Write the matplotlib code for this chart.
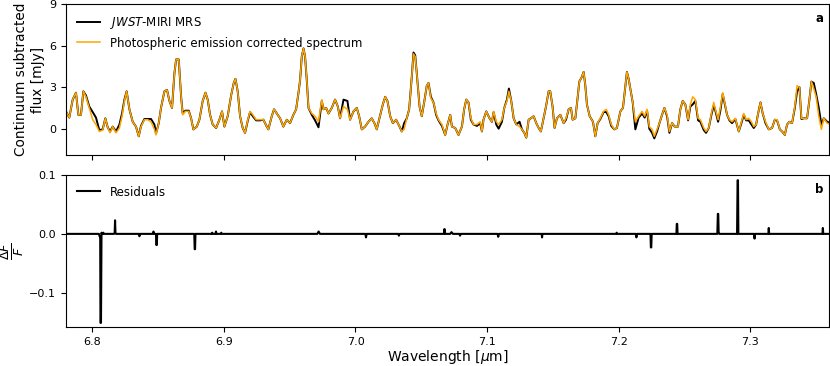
import matplotlib
matplotlib.use("Agg")
import matplotlib.pyplot as plt

# wavelength grid (micron)
wave = [
    6.7800, 6.7825, 6.7851, 6.7876, 6.7894, 6.7914, 6.7932, 6.7952, 6.7977, 6.8003,
    6.8028, 6.8053, 6.8079, 6.8099, 6.8117, 6.8135, 6.8155, 6.8180, 6.8206, 6.8226,
    6.8244, 6.8261, 6.8282, 6.8307, 6.8332, 6.8353, 6.8370, 6.8396, 6.8421, 6.8446,
    6.8472, 6.8484, 6.8505, 6.8522, 6.8548, 6.8568, 6.8586, 6.8606, 6.8624, 6.8637,
    6.8657, 6.8675, 6.8687, 6.8707, 6.8733, 6.8751, 6.8768, 6.8794, 6.8814, 6.8839,
    6.8860, 6.8877, 6.8895, 6.8915, 6.8941, 6.8966, 6.8986, 6.9004, 6.9029, 6.9055,
    6.9075, 6.9088, 6.9105, 6.9123, 6.9143, 6.9161, 6.9182, 6.9199, 6.9220, 6.9245,
    6.9275, 6.9300, 6.9326, 6.9338, 6.9364, 6.9381, 6.9402, 6.9427, 6.9452, 6.9478,
    6.9503, 6.9528, 6.9549, 6.9567, 6.9579, 6.9592, 6.9605, 6.9617, 6.9630, 6.9643,
    6.9668, 6.9693, 6.9719, 6.9744, 6.9757, 6.9777, 6.9795, 6.9820, 6.9845, 6.9866,
    6.9883, 6.9909, 6.9939, 6.9959, 6.9985, 7.0010, 7.0028, 7.0048, 7.0073, 7.0099,
    7.0124, 7.0144, 7.0162, 7.0182, 7.0208, 7.0226, 7.0243, 7.0264, 7.0284, 7.0309,
    7.0335, 7.0352, 7.0370, 7.0390, 7.0408, 7.0428, 7.0441, 7.0454, 7.0466, 7.0487,
    7.0504, 7.0522, 7.0542, 7.0555, 7.0573, 7.0593, 7.0613, 7.0631, 7.0657, 7.0682,
    7.0700, 7.0720, 7.0733, 7.0758, 7.0783, 7.0809, 7.0826, 7.0842, 7.0859, 7.0877,
    7.0897, 7.0923, 7.0948, 7.0961, 7.0973, 7.0994, 7.1019, 7.1037, 7.1050, 7.1070,
    7.1088, 7.1113, 7.1131, 7.1151, 7.1166, 7.1184, 7.1202, 7.1222, 7.1247, 7.1265,
    7.1283, 7.1298, 7.1316, 7.1333, 7.1354, 7.1374, 7.1392, 7.1409, 7.1430, 7.1448,
    7.1468, 7.1480, 7.1498, 7.1513, 7.1531, 7.1557, 7.1582, 7.1600, 7.1620, 7.1638,
    7.1650, 7.1671, 7.1688, 7.1701, 7.1721, 7.1734, 7.1747, 7.1759, 7.1780, 7.1805,
    7.1823, 7.1840, 7.1861, 7.1886, 7.1906, 7.1924, 7.1944, 7.1967, 7.1987, 7.2013,
    7.2033, 7.2051, 7.2063, 7.2076, 7.2089, 7.2107, 7.2127, 7.2152, 7.2178, 7.2198,
    7.2216, 7.2233, 7.2254, 7.2271, 7.2292, 7.2310, 7.2330, 7.2348, 7.2368, 7.2386,
    7.2406, 7.2426, 7.2451, 7.2469, 7.2487, 7.2507, 7.2528, 7.2545, 7.2563, 7.2583,
    7.2604, 7.2621, 7.2647, 7.2664, 7.2685, 7.2705, 7.2723, 7.2735, 7.2756, 7.2773,
    7.2791, 7.2806, 7.2824, 7.2842, 7.2862, 7.2887, 7.2913, 7.2933, 7.2951, 7.2969,
    7.2989, 7.3009, 7.3027, 7.3045, 7.3060, 7.3078, 7.3095, 7.3116, 7.3141, 7.3166,
    7.3187, 7.3204, 7.3225, 7.3242, 7.3263, 7.3280, 7.3298, 7.3318, 7.3339, 7.3356,
    7.3374, 7.3389, 7.3407, 7.3432, 7.3450, 7.3465, 7.3483, 7.3501, 7.3521, 7.3541,
    7.3559, 7.3585, 7.3610,
]

# photospheric emission corrected spectrum (mJy)
corrected = [
    1.25, 0.80, 2.10, 2.60, 1.00, 1.00, 2.70, 2.30, 1.50, 0.65,
    0.30, -0.20, -0.10, 0.75, 0.10, -0.30, 0.15, -0.30, 0.05, 0.90,
    2.00, 2.70, 1.40, 0.50, 0.15, -0.55, 0.15, 0.65, 0.65, 0.50,
    -0.05, -0.45, 0.40, 1.50, 2.70, 2.80, 2.00, 1.50, 4.00, 5.00,
    5.00, 2.30, 1.00, 1.25, 1.25, 0.75, -0.05, 0.15, 0.65, 2.00,
    2.60, 2.10, 1.00, 0.30, 0.05, 0.65, 1.25, 0.15, 0.90, 2.40,
    3.30, 3.60, 2.70, 0.90, 0.05, -0.30, 0.65, 1.25, 1.00, 0.65,
    0.65, 0.65, 0.15, -0.05, 0.90, 1.40, 1.10, 0.75, 0.15, 0.65,
    0.40, 1.00, 1.40, 2.60, 3.50, 5.20, 5.80, 5.20, 3.50, 1.50,
    1.10, 0.90, 0.50, 2.10, 1.40, 1.50, 1.10, 1.50, 2.10, 1.60,
    0.75, 1.60, 1.40, 0.65, 1.25, 1.50, 0.90, -0.05, 0.15, 0.50,
    0.75, 0.40, -0.05, 0.75, 1.75, 2.30, 2.00, 0.90, 0.40, 0.65,
    0.15, -0.20, -0.05, 0.75, 1.40, 3.75, 5.40, 5.20, 4.00, 1.60,
    0.90, 1.90, 3.10, 3.30, 2.20, 1.90, 1.10, 0.65, 0.30, -0.45,
    0.30, 1.00, 0.15, 0.05, -0.45, 0.15, 1.40, 2.10, 1.90, 0.75,
    0.30, 0.30, 0.50, -0.20, 0.65, 1.25, 0.75, 0.50, 1.25, 0.50,
    0.30, 0.65, 1.50, 2.00, 2.70, 2.00, 0.75, 0.30, 0.15, -0.05,
    -0.30, -0.65, 0.65, 0.75, 0.90, 0.40, 0.05, -0.20, 0.75, 1.60,
    2.70, 2.70, 1.60, 0.05, 0.75, 1.00, 0.40, 0.75, 1.40, 1.50,
    0.65, 0.75, 2.20, 3.40, 3.75, 4.10, 3.10, 1.75, 0.90, 0.50,
    -0.55, 0.40, 0.75, 1.25, 1.40, 1.00, 0.30, -0.05, 0.05, 1.25,
    1.50, 3.10, 4.10, 3.60, 2.90, 1.90, 0.50, 0.90, 1.25, 0.90,
    1.40, 0.15, -0.05, -0.55, -0.05, 0.40, 1.00, 1.50, 1.00, -0.20,
    0.40, 0.15, 0.15, 1.40, 2.00, 1.75, 0.65, 1.75, 2.30, 2.10,
    0.75, 0.65, 0.05, -0.20, 0.05, 1.10, 1.90, 1.40, 0.65, 1.50,
    2.60, 1.90, 1.00, 0.65, 0.50, 0.75, -0.20, 0.50, 1.10, 0.65,
    0.75, 0.50, 0.15, 0.30, 1.10, 1.90, 1.10, 0.50, -0.05, 0.05,
    0.65, 0.65, -0.05, -0.20, -0.45, 0.30, 0.50, 0.40, 1.60, 3.10,
    3.00, 0.75, 0.75, 0.75, 2.10, 3.40, 2.90, 2.30, 0.90, -0.05,
    0.75, 0.40, 0.30,
]

# JWST-MIRI MRS spectrum (mJy)
observed = [
    1.25, 0.80, 2.10, 2.60, 1.00, 1.00, 2.70, 2.40, 1.60, 1.20,
    0.80, -0.10, -0.05, 0.75, 0.10, -0.20, 0.15, -0.20, 0.30, 1.10,
    2.10, 2.70, 1.40, 0.50, 0.15, -0.55, 0.20, 0.70, 0.70, 0.70,
    0.30, -0.35, 0.40, 1.50, 2.70, 2.80, 2.00, 1.50, 4.00, 5.00,
    5.00, 2.30, 1.10, 1.30, 1.30, 0.75, -0.05, 0.15, 0.65, 2.00,
    2.60, 2.10, 1.00, 0.30, 0.05, 0.65, 1.25, 0.15, 0.90, 2.40,
    3.30, 3.60, 2.70, 0.90, 0.05, -0.30, 0.60, 1.20, 0.90, 0.60,
    0.60, 0.65, 0.15, -0.05, 0.90, 1.40, 1.10, 0.75, 0.15, 0.65,
    0.40, 1.00, 1.40, 2.60, 3.50, 5.20, 5.80, 5.20, 3.50, 1.50,
    1.00, 0.60, 0.10, 2.00, 1.40, 1.50, 1.10, 1.50, 2.10, 1.60,
    0.75, 2.10, 2.00, 0.65, 1.25, 1.50, 0.90, -0.05, 0.15, 0.50,
    0.75, 0.40, -0.05, 0.75, 1.75, 2.30, 2.00, 0.90, 0.40, 0.65,
    0.15, -0.20, 0.40, 0.75, 1.40, 3.75, 5.50, 5.30, 4.00, 1.60,
    0.90, 1.90, 3.10, 3.30, 2.30, 1.90, 1.00, 0.60, 0.20, -0.45,
    0.30, 1.00, 0.15, 0.05, -0.45, 0.15, 1.40, 2.10, 1.90, 0.65,
    0.30, 0.20, 0.40, -0.20, 0.65, 1.25, 0.75, 0.50, 1.20, 0.30,
    0.00, 0.50, 1.50, 2.10, 2.90, 2.00, 0.75, 0.30, 0.50, -0.05,
    -0.30, -0.65, 0.65, 0.75, 0.90, 0.40, 0.05, -0.20, 0.75, 1.60,
    2.70, 2.70, 1.60, 0.05, 0.75, 1.00, 0.40, 0.65, 1.40, 1.50,
    0.65, 0.75, 2.20, 3.40, 3.75, 4.10, 3.10, 1.75, 0.90, 0.50,
    -0.55, 0.40, 0.70, 1.20, 1.20, 0.90, 0.20, -0.05, 0.05, 1.25,
    1.50, 3.10, 4.10, 3.60, 2.90, 1.90, -0.05, 0.80, 1.10, 0.80,
    1.30, 0.00, -0.30, -0.70, -0.20, 0.40, 1.00, 1.50, 0.90, -0.30,
    0.40, 0.15, 0.15, 1.40, 2.00, 1.75, 0.60, 1.60, 1.75, 2.00,
    0.60, 0.50, -0.10, -0.30, 0.05, 1.00, 1.70, 1.30, 0.50, 1.30,
    2.50, 1.80, 1.00, 0.60, 0.40, 0.70, -0.20, 0.40, 1.00, 0.60,
    0.60, 0.30, 0.05, 0.30, 1.10, 1.90, 1.10, 0.40, -0.05, 0.05,
    0.65, 0.60, -0.05, -0.20, -0.45, 0.30, 0.50, 0.40, 1.50, 2.70,
    3.00, 0.70, 0.75, 0.75, 2.10, 3.40, 3.30, 2.50, 1.50, 0.30,
    0.75, 0.50, 0.40,
]

# residuals dF/F (mostly zero with narrow spikes)
res_wave = [
    6.7800, 6.8050, 6.8055, 6.8060, 6.8062, 6.8066, 6.8070, 6.8072, 6.8080, 6.8084,
    6.8088, 6.8165, 6.8170, 6.8173, 6.8176, 6.8180, 6.8355, 6.8358, 6.8361, 6.8460,
    6.8465, 6.8470, 6.8484, 6.8487, 6.8490, 6.8493, 6.8775, 6.8778, 6.8781, 6.8784,
    6.8908, 6.8911, 6.8914, 6.8936, 6.8940, 6.8944, 6.8975, 6.8980, 6.8985, 6.9710,
    6.9720, 6.9730, 7.0075, 7.0080, 7.0085, 7.0325, 7.0330, 7.0335, 7.0672, 7.0675,
    7.0678, 7.0681, 7.0720, 7.0730, 7.0740, 7.0790, 7.0795, 7.0800, 7.1080, 7.1085,
    7.1090, 7.1415, 7.1418, 7.1421, 7.1980, 7.1985, 7.1990, 7.2130, 7.2135, 7.2140,
    7.2242, 7.2245, 7.2248, 7.2251, 7.2439, 7.2442, 7.2445, 7.2448, 7.2750, 7.2754,
    7.2757, 7.2760, 7.2765, 7.2900, 7.2904, 7.2907, 7.2910, 7.3030, 7.3033, 7.3036,
    7.3138, 7.3141, 7.3144, 7.3549, 7.3552, 7.3555, 7.3610,
]
residuals = [
    0.000, 0.000, -0.004, -0.004, -0.151, -0.151, 0.002, 0.000, 0.000, 0.002,
    0.000, 0.000, 0.002, 0.023, 0.002, 0.000, 0.000, -0.004, 0.000, 0.000,
    0.004, 0.000, 0.000, -0.019, -0.019, 0.000, 0.000, -0.026, -0.026, 0.000,
    0.000, 0.002, 0.000, 0.000, 0.004, 0.000, 0.000, 0.002, 0.000, 0.000,
    0.004, 0.000, 0.000, -0.006, 0.000, 0.000, -0.003, 0.000, 0.000, 0.008,
    0.008, 0.000, 0.000, 0.003, 0.000, 0.000, -0.003, 0.000, 0.000, -0.005,
    0.000, 0.000, -0.006, 0.000, 0.000, 0.002, 0.000, 0.000, -0.006, 0.000,
    0.000, -0.023, -0.023, 0.000, 0.000, 0.017, 0.017, 0.000, 0.000, 0.034,
    0.034, 0.003, 0.000, 0.000, 0.091, 0.091, 0.000, 0.000, -0.008, 0.000,
    0.000, 0.010, 0.000, 0.000, 0.010, 0.000, 0.000,
]

plt.rcParams['font.family'] = ['DejaVu Sans']

fig = plt.figure(figsize=(8.3, 3.66), dpi=100)
ax1 = fig.add_axes([0.0795, 0.5765, 0.9195, 0.4125])
ax2 = fig.add_axes([0.0795, 0.1066, 0.9195, 0.4154], sharex=ax1)

ax1.plot(wave, observed, color='black', lw=1.4, label=r'$\it{JWST}$-MIRI MRS')
ax1.plot(wave, corrected, color='orange', lw=1.1, label='Photospheric emission corrected spectrum')
ax1.set_ylim(-1.9, 9)
ax1.set_yticks([0, 3, 6, 9])
ax1.set_ylabel('Continuum subtracted\nflux [mJy]', fontsize=9.8)
ax1.yaxis.set_label_coords(-0.028, 0.5)
ax1.legend(loc='upper left', frameon=False, fontsize=8.5, handlelength=2.0)
ax1.text(0.993, 0.95, 'a', transform=ax1.transAxes, ha='right', va='top', fontsize=8.5, fontweight='bold')
ax1.tick_params(labelbottom=False, labelsize=8)

ax2.plot(res_wave, residuals, color='black', lw=1.5, label='Residuals')
ax2.set_ylim(-0.158, 0.1)
ax2.set_yticks([-0.1, 0.0, 0.1])
ax2.set_ylabel(r'$\frac{\Delta F}{F}$', fontsize=13)
ax2.yaxis.set_label_coords(-0.052, 0.5)
ax2.set_xlabel(r'Wavelength [$\mu$m]', fontsize=10, labelpad=1)
ax2.legend(loc='upper left', frameon=False, fontsize=8.5, handlelength=2.0)
ax2.text(0.993, 0.95, 'b', transform=ax2.transAxes, ha='right', va='top', fontsize=8.5, fontweight='bold')
ax2.tick_params(labelsize=8)

ax1.set_xlim(6.78, 7.36)
ax1.set_xticks([6.8, 6.9, 7.0, 7.1, 7.2, 7.3])

fig.savefig('out.png', dpi=100)
